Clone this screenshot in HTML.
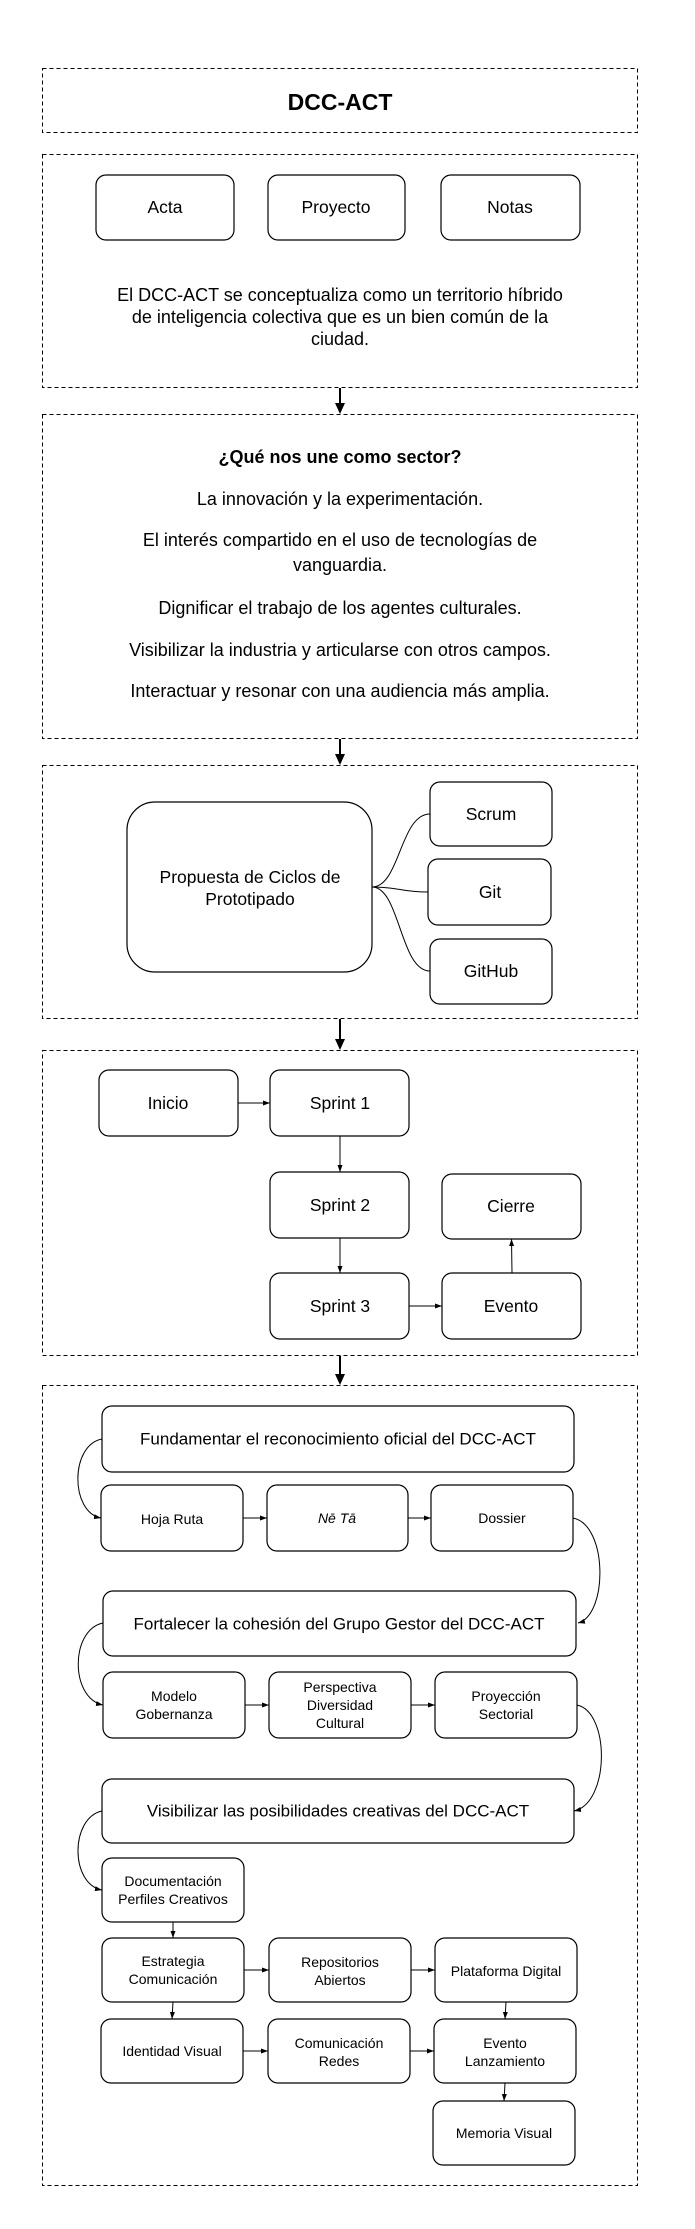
<!DOCTYPE html>
<html><head><meta charset="utf-8"><style>
html,body{margin:0;padding:0;background:#fff;}
svg{display:block;}
text{font-family:"Liberation Sans",Arial,sans-serif;fill:#000;}
</style></head><body>
<svg width="695" height="2229" viewBox="0 0 695 2229" xmlns="http://www.w3.org/2000/svg">
<defs>
<marker id="sm" markerWidth="8" markerHeight="6" refX="7" refY="3" orient="auto" markerUnits="userSpaceOnUse"><path d="M0,0.5 L7,3 L0,5.5 Z" fill="#000"/></marker>
</defs>
<g fill="none" stroke="#000" stroke-width="1" stroke-dasharray="4 3">
<rect x="42.5" y="68.5" width="595" height="64"/>
<rect x="42.5" y="154.5" width="595" height="233"/>
<rect x="42.5" y="414.5" width="595" height="324"/>
<rect x="42.5" y="765.5" width="595" height="253"/>
<rect x="42.5" y="1050.5" width="595" height="305"/>
<rect x="42.5" y="1385.5" width="595" height="800"/>
</g>
<g stroke="#000" stroke-width="2">
<line x1="340" y1="388" x2="340" y2="404"/>
<line x1="340" y1="739" x2="340" y2="755"/>
<line x1="340" y1="1019" x2="340" y2="1040"/>
<line x1="340" y1="1356" x2="340" y2="1375"/>
</g>
<g fill="#000">
<path d="M335,403 L345,403 L340,414 Z"/>
<path d="M335,754 L345,754 L340,765 Z"/>
<path d="M335,1039 L345,1039 L340,1050 Z"/>
<path d="M335,1374 L345,1374 L340,1385 Z"/>
</g>
<text x="340" y="102" font-size="23" font-weight="bold" text-anchor="middle" dominant-baseline="central">DCC-ACT</text>
<g fill="#fff" stroke="#000" stroke-width="1.2">
<rect x="96" y="175" width="138" height="65" rx="10"/>
<rect x="268" y="175" width="137" height="65" rx="10"/>
<rect x="441" y="175" width="139" height="65" rx="10"/>
</g>
<g font-size="17.5" text-anchor="middle" dominant-baseline="central">
<text x="165" y="207">Acta</text>
<text x="336" y="207">Proyecto</text>
<text x="510" y="207">Notas</text>
</g>
<g font-size="18" text-anchor="middle" dominant-baseline="central">
<text x="340" y="295">El DCC-ACT se conceptualiza como un territorio híbrido</text>
<text x="340" y="317">de inteligencia colectiva que es un bien común de la</text>
<text x="340" y="339">ciudad.</text>
<text x="340" y="457" font-weight="bold">¿Qué nos une como sector?</text>
<text x="340" y="499">La innovación y la experimentación.</text>
<text x="340" y="540">El interés compartido en el uso de tecnologías de</text>
<text x="340" y="565">vanguardia.</text>
<text x="340" y="608">Dignificar el trabajo de los agentes culturales.</text>
<text x="340" y="650">Visibilizar la industria y articularse con otros campos.</text>
<text x="340" y="691">Interactuar y resonar con una audiencia más amplia.</text>
</g>
<g fill="none" stroke="#000" stroke-width="1">
<path d="M372,887 C400,887 400,814 430,814"/>
<path d="M372,887 C400,887 400,892 428,892"/>
<path d="M372,887 C400,887 400,971 430,971"/>
</g>
<g fill="#fff" stroke="#000" stroke-width="1.2">
<rect x="127" y="802" width="245" height="170" rx="28"/>
<rect x="430" y="782" width="122" height="64" rx="10"/>
<rect x="428" y="859" width="123" height="66" rx="10"/>
<rect x="430" y="939" width="122" height="65" rx="10"/>
</g>
<g font-size="17.5" text-anchor="middle" dominant-baseline="central">
<text x="250" y="877">Propuesta de Ciclos de</text>
<text x="250" y="899">Prototipado</text>
<text x="491" y="814">Scrum</text>
<text x="490" y="892">Git</text>
<text x="491" y="971">GitHub</text>
</g>
<g fill="#fff" stroke="#000" stroke-width="1.2">
<rect x="99" y="1070" width="139" height="66" rx="10"/>
<rect x="270" y="1070" width="139" height="66" rx="10"/>
<rect x="270" y="1172" width="139" height="66" rx="10"/>
<rect x="270" y="1273" width="139" height="66" rx="10"/>
<rect x="442" y="1174" width="139" height="65" rx="10"/>
<rect x="442" y="1273" width="139" height="66" rx="10"/>
</g>
<g stroke="#000" stroke-width="1" marker-end="url(#sm)">
<line x1="238" y1="1103" x2="270" y2="1103"/>
<line x1="340" y1="1136" x2="340" y2="1172"/>
<line x1="340" y1="1238" x2="340" y2="1273"/>
<line x1="409" y1="1306" x2="442" y2="1306"/>
<line x1="512" y1="1273" x2="511.5" y2="1239"/>
</g>
<g font-size="17.5" text-anchor="middle" dominant-baseline="central">
<text x="168" y="1103">Inicio</text>
<text x="340" y="1103">Sprint 1</text>
<text x="340" y="1205">Sprint 2</text>
<text x="340" y="1306">Sprint 3</text>
<text x="511" y="1206">Cierre</text>
<text x="511" y="1306">Evento</text>
</g>
<g fill="none" stroke="#000" stroke-width="1" marker-end="url(#sm)">
<path d="M102,1439 C70,1445 70,1512 101,1518"/>
<path d="M573,1518 C608,1525 608,1615 578,1623"/>
<path d="M103,1623 C70,1630 70,1698 103,1705"/>
<path d="M577,1705 C610,1712 610,1803 574,1811"/>
<path d="M102,1811 C70,1818 70,1884 102,1890"/>
<line x1="243" y1="1518" x2="267" y2="1518"/>
<line x1="408" y1="1518" x2="431" y2="1518"/>
<line x1="245" y1="1705" x2="269" y2="1705"/>
<line x1="411" y1="1705" x2="435" y2="1705"/>
<line x1="173" y1="1922" x2="173" y2="1938"/>
<line x1="244" y1="1970" x2="269" y2="1970"/>
<line x1="411" y1="1970" x2="435" y2="1970"/>
<line x1="173" y1="2002" x2="172" y2="2019"/>
<line x1="506" y1="2002" x2="505" y2="2019"/>
<line x1="243" y1="2051" x2="268" y2="2051"/>
<line x1="410" y1="2051" x2="434" y2="2051"/>
<line x1="505" y1="2083" x2="504" y2="2101"/>
</g>
<g fill="#fff" stroke="#000" stroke-width="1.2">
<rect x="102" y="1406" width="472" height="66" rx="10"/>
<rect x="101" y="1485" width="142" height="66" rx="10"/>
<rect x="267" y="1485" width="141" height="66" rx="10"/>
<rect x="431" y="1485" width="142" height="66" rx="10"/>
<rect x="103" y="1591" width="473" height="65" rx="10"/>
<rect x="103" y="1672" width="142" height="66" rx="10"/>
<rect x="269" y="1672" width="142" height="66" rx="10"/>
<rect x="435" y="1672" width="142" height="66" rx="10"/>
<rect x="102" y="1779" width="472" height="64" rx="10"/>
<rect x="102" y="1858" width="142" height="64" rx="10"/>
<rect x="102" y="1938" width="142" height="64" rx="10"/>
<rect x="269" y="1938" width="142" height="64" rx="10"/>
<rect x="435" y="1938" width="142" height="64" rx="10"/>
<rect x="101" y="2019" width="142" height="64" rx="10"/>
<rect x="268" y="2019" width="142" height="64" rx="10"/>
<rect x="434" y="2019" width="142" height="64" rx="10"/>
<rect x="433" y="2101" width="142" height="64" rx="10"/>
</g>
<g font-size="17" text-anchor="middle" dominant-baseline="central">
<text x="338" y="1439">Fundamentar el reconocimiento oficial del DCC-ACT</text>
<text x="339" y="1624">Fortalecer la cohesión del Grupo Gestor del DCC-ACT</text>
<text x="338" y="1811">Visibilizar las posibilidades creativas del DCC-ACT</text>
</g>
<g font-size="14" text-anchor="middle" dominant-baseline="central">
<text x="172" y="1519">Hoja Ruta</text>
<text x="337" y="1518" font-style="italic">Nē Tā</text>
<text x="502" y="1518">Dossier</text>
<text x="174" y="1696">Modelo</text>
<text x="174" y="1714">Gobernanza</text>
<text x="340" y="1687">Perspectiva</text>
<text x="340" y="1705">Diversidad</text>
<text x="340" y="1723">Cultural</text>
<text x="506" y="1696">Proyección</text>
<text x="506" y="1714">Sectorial</text>
<text x="173" y="1881">Documentación</text>
<text x="173" y="1899">Perfiles Creativos</text>
<text x="173" y="1961">Estrategia</text>
<text x="173" y="1979">Comunicación</text>
<text x="340" y="1962">Repositorios</text>
<text x="340" y="1980">Abiertos</text>
<text x="506" y="1971">Plataforma Digital</text>
<text x="172" y="2051">Identidad Visual</text>
<text x="339" y="2043">Comunicación</text>
<text x="339" y="2061">Redes</text>
<text x="505" y="2043">Evento</text>
<text x="505" y="2061">Lanzamiento</text>
<text x="504" y="2133">Memoria Visual</text>
</g>
</svg>
</body></html>
